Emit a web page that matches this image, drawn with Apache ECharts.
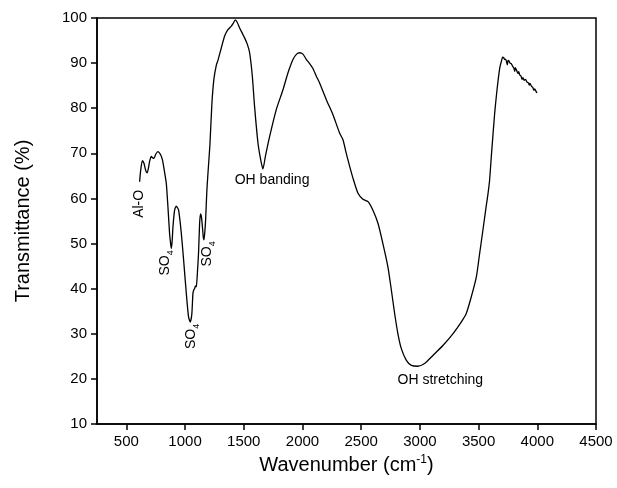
<!DOCTYPE html>
<html>
<head>
<meta charset="utf-8">
<script src="https://cdn.jsdelivr.net/npm/echarts@6/dist/echarts.min.js"></script>
<style>
  html, body { margin: 0; padding: 0; background: #fff; }
  #chart { width: 617px; height: 488px; }
</style>
</head>
<body>
<div id="chart"></div>
<script>
// FTIR spectrum: wavenumber (cm-1) vs transmittance (%)
const wavenumber = [
  613, 621, 636, 650, 665, 678, 690, 698, 712, 725, 735, 750, 769, 792, 808, 820,
  840, 854, 868, 876, 883, 890, 897, 911, 925, 945, 968, 990, 1013, 1030, 1045, 1058,
  1067, 1075, 1081, 1088, 1096, 1105, 1115, 1124, 1132, 1140, 1147, 1155, 1161, 1168, 1175, 1186,
  1201, 1212, 1229, 1246, 1266, 1280, 1309, 1337, 1365, 1394, 1410, 1428, 1445, 1465,
  1507, 1530, 1550, 1573, 1592, 1621, 1644, 1663, 1684, 1720, 1777, 1834, 1876, 1919,
  1950, 1976, 2004, 2033, 2061, 2089, 2118, 2146, 2203, 2259, 2316, 2345, 2373, 2402,
  2430, 2472, 2515, 2558, 2600, 2643, 2685, 2728, 2757, 2785, 2813, 2842, 2885, 2927,
  2983, 3040, 3111, 3196, 3281, 3352, 3395, 3438, 3481, 3509, 3537, 3566, 3580, 3594,
  3609, 3637, 3657, 3680, 3694, 3705, 3714, 3722, 3731, 3738, 3745, 3750, 3756, 3768,
  3778, 3788, 3800, 3808, 3812, 3822, 3830, 3836, 3842, 3850, 3862, 3870, 3878, 3888,
  3900, 3912, 3925, 3932, 3938, 3950, 3962, 3970, 3978, 3988, 3997
];
const transmittance = [
  63.7, 66.0, 68.4, 67.8, 66.2, 65.7, 67.0, 68.2, 69.3, 69.0, 68.9, 69.8, 70.4, 69.7, 68.5, 66.7,
  63.4, 58.2, 52.3, 50.2, 48.9, 50.5, 53.7, 57.4, 58.3, 57.4, 52.3, 45.6, 38.2, 33.7, 32.6, 34.5,
  38.9, 39.8, 40.0, 40.6, 40.4, 43.5, 48.0, 54.5, 56.6, 55.8, 54.0, 51.5, 50.8, 52.5, 55.2, 61.9,
  67.8, 72.0, 81.2, 86.5, 89.5, 90.6, 93.4, 96.0, 97.4, 98.2, 98.8, 99.6, 99.0, 97.8,
  95.6, 94.2, 92.3, 87.1, 80.4, 72.3, 68.6, 66.5, 69.3, 73.7, 79.7, 84.1, 87.8, 90.8,
  92.0, 92.3, 92.0, 90.8, 89.9, 88.8, 87.1, 85.6, 81.9, 78.6, 74.5, 73.0, 70.0, 67.1,
  64.5, 61.2, 59.8, 59.3, 57.4, 54.5, 50.0, 44.8, 39.7, 34.5, 30.0, 26.7, 24.1, 23.0,
  22.8, 23.4, 25.2, 27.4, 30.0, 32.6, 34.5, 38.2, 42.6, 47.8, 53.0, 58.5, 61.0, 64.1,
  69.5, 78.9, 84.1, 88.9, 90.4, 91.3, 91.2, 90.8, 90.9, 90.3, 89.6, 90.5, 90.6, 90.0,
  89.9, 89.4, 88.9, 88.2, 89.0, 88.5, 88.0, 87.7, 88.1, 87.4, 87.1, 86.4, 86.8, 86.2,
  86.4, 85.8, 85.6, 85.1, 85.5, 84.9, 84.6, 84.0, 84.3, 83.8, 83.4
];

// Tick values
const xTicks = [500, 1000, 1500, 2000, 2500, 3000, 3500, 4000, 4500];

// Band assignments: [wavenumber, transmittance, label text, rotated]
const bandLabels = [
  [613, 58.8, 'Al-O', true],
  [834, 45.7, 'SO4', true],
  [1056, 29.4, 'SO4', true],
  [1192, 47.7, 'SO4', true],
  [1423, 64.1, 'OH banding', false],
  [2810, 19.7, 'OH stretching', false]
];

const FONT = '"Liberation Sans", Arial, Helvetica, sans-serif';

function labelText(t) {
  if (t === 'SO4') return '{m|SO}{s|4}';
  return '{m|' + t + '}';
}

const chart = echarts.init(document.getElementById('chart'), null, { renderer: 'canvas' });

chart.setOption({
  backgroundColor: '#ffffff',
  animation: false,
  grid: {
    left: 97, right: 21, top: 18, bottom: 64,
    show: true, borderColor: '#000', borderWidth: 1.5, backgroundColor: 'transparent'
  },
  xAxis: {
    type: 'value',
    min: 250, max: 4500,
    name: '{t|Wavenumber (cm}{sup|-1}{t|)}',
    nameLocation: 'middle',
    nameGap: 28,
    nameTextStyle: {
      rich: {
        t: { fontFamily: FONT, fontSize: 20, color: '#000', lineHeight: 24 },
        sup: { fontFamily: FONT, fontSize: 12, color: '#000', verticalAlign: 'top', lineHeight: 24 }
      }
    },
    axisLine: { onZero: false, lineStyle: { color: '#000', width: 1.5 } },
    axisTick: { show: true, inside: false, length: 6, customValues: xTicks, lineStyle: { color: '#000', width: 1.5 } },
    axisLabel: {
      customValues: xTicks, color: '#000', fontFamily: FONT, fontSize: 15, margin: 10,
      formatter: v => String(v)
    },
    splitLine: { show: false }
  },
  yAxis: {
    type: 'value',
    min: 10, max: 100, interval: 10,
    name: 'Transmittance (%)',
    nameLocation: 'middle',
    nameGap: 64,
    nameTextStyle: { fontFamily: FONT, fontSize: 20, color: '#000' },
    axisLine: { onZero: false, lineStyle: { color: '#000', width: 1.5 } },
    axisTick: { show: true, inside: false, length: 6, lineStyle: { color: '#000', width: 1.5 } },
    axisLabel: { color: '#000', fontFamily: FONT, fontSize: 15, margin: 10 },
    splitLine: { show: false }
  },
  series: [
    {
      type: 'line',
      data: wavenumber.map((w, i) => [w, transmittance[i]]),
      symbol: 'none',
      smooth: 0.2,
      lineStyle: { color: '#000', width: 1.3 },
      z: 3
    },
    {
      type: 'scatter',
      symbolSize: 0,
      silent: true,
      itemStyle: { color: '#000', opacity: 1 },
      data: bandLabels.map(b => ({
        value: [b[0], b[1]],
        label: {
          show: true,
          position: 'inside',
          rotate: b[3] ? 90 : 0,
          align: b[3] ? 'center' : 'left',
          verticalAlign: 'middle',
          color: '#000',
          opacity: 1,
          textBorderWidth: 0,
          formatter: labelText(b[2]),
          rich: {
            m: { fontFamily: FONT, fontSize: 14, color: '#000', lineHeight: 18, textBorderWidth: 0 },
            s: { fontFamily: FONT, fontSize: 9, color: '#000', verticalAlign: 'bottom', lineHeight: 18, textBorderWidth: 0 }
          }
        }
      })),
      z: 4
    }
  ]
});
</script>
</body>
</html>
